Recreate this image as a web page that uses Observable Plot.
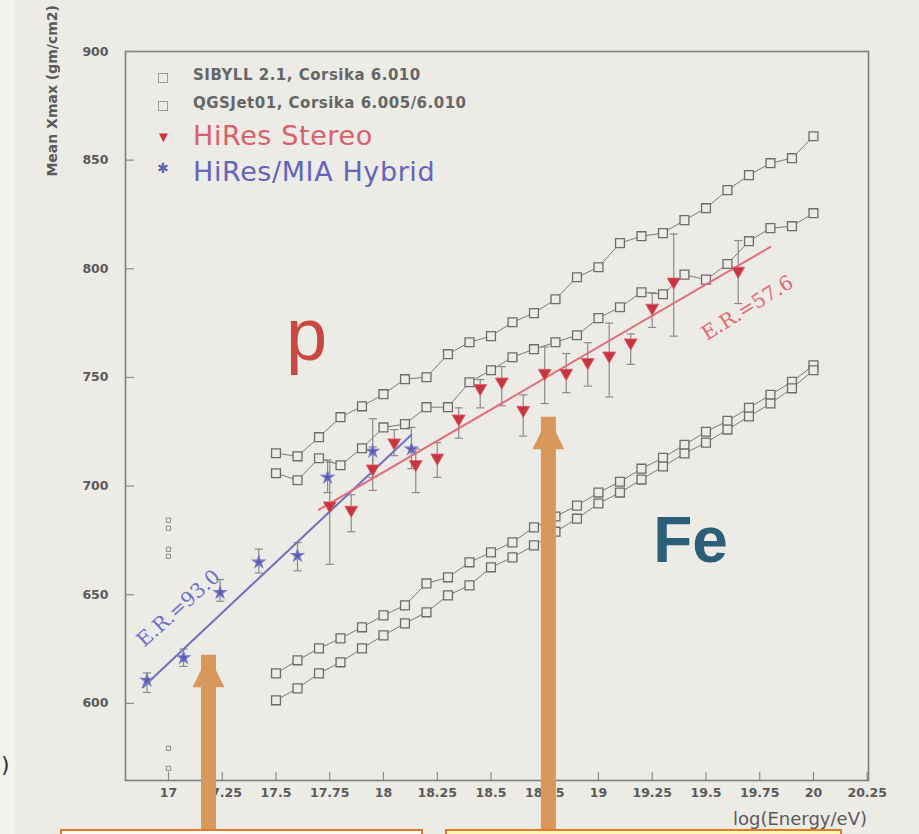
<!DOCTYPE html>
<html>
<head>
<meta charset="utf-8">
<script src="https://cdn.jsdelivr.net/npm/d3@7"></script>
<script src="https://cdn.jsdelivr.net/npm/@observablehq/plot@0.6"></script>
<style>
  html, body { margin: 0; padding: 0; background: #ecebe5; overflow: hidden; }
  #wrap { position: relative; width: 919px; height: 834px; }
  #wrap svg { position: absolute; left: 0; top: 0; }
  .abs { position: absolute; white-space: nowrap; }
  .leg-small { font-family: "DejaVu Sans"; font-weight: bold; font-size: 15px; color: #666; letter-spacing: 0.5px; }
  .leg-big { font-family: "DejaVu Sans"; font-size: 27px; letter-spacing: 0.6px; }
</style>
</head>
<body>
<div id="wrap"></div>
<script>
// Mean depth of shower maximum vs. log10 of the primary energy.

// Simulation energy grid (log10 E/eV)
const simLogE = [17.5, 17.6, 17.7, 17.8, 17.9, 18.0, 18.1, 18.2, 18.3, 18.4, 18.5, 18.6, 18.7,
                 18.8, 18.9, 19.0, 19.1, 19.2, 19.3, 19.4, 19.5, 19.6, 19.7, 19.8, 19.9, 20.0];

// Proton predictions (g/cm2)
const sibyllProton = [715.1, 713.7, 722.5, 731.7, 736.7, 742.3, 749.2, 750.1, 760.7, 766.2, 769.0, 775.4, 779.6,
                      786.0, 796.1, 800.7, 811.8, 815.0, 816.4, 822.4, 827.9, 836.2, 843.1, 848.6, 850.9, 861.0];
const qgsjetProton = [705.9, 702.7, 712.8, 709.6, 717.4, 727.0, 728.5, 736.3, 736.3, 747.8, 753.3, 759.3, 763.0,
                      766.2, 769.4, 777.3, 782.3, 789.2, 788.3, 797.3, 795.0, 802.2, 812.7, 818.7, 819.6, 825.6];
// Iron predictions (g/cm2)
const sibyllIron = [613.8, 619.8, 625.3, 629.9, 635.0, 640.5, 645.1, 655.2, 658.0, 664.9, 669.5, 674.1, 681.0,
                    686, 691, 697, 702, 708, 713, 719, 725, 730, 736, 742, 748, 755.6];
const qgsjetIron = [601.4, 606.9, 613.8, 618.9, 625.3, 631.3, 636.8, 641.9, 649.7, 654.3, 662.6, 667.2, 672.7,
                    679, 685, 692, 697, 703, 709, 715, 720, 726, 732, 738, 745, 753.3];

// HiRes Stereo measurements
const stereoLogE = [17.75, 17.85, 17.95, 18.05, 18.15, 18.25, 18.35, 18.45, 18.55, 18.65, 18.75, 18.85,
                    18.95, 19.05, 19.15, 19.25, 19.35, 19.65];
const stereoXmax = [691, 689, 708, 720, 710, 713, 731, 745, 748, 735, 752, 752, 757, 760, 766, 782, 794, 799];
const stereoLow  = [664, 679, 698, 714, 697, 704, 722, 736, 737, 723, 738, 743, 746, 741, 756, 773, 769, 784];
const stereoHigh = [711, 696, 718, 726, 717, 720, 736, 749, 755, 742, 764, 761, 766, 775, 770, 789, 816, 813];

// HiRes/MIA Hybrid measurements
const hybridLogE = [16.9, 17.07, 17.24, 17.42, 17.6, 17.74, 17.95, 18.13];
const hybridXmax = [610.6, 621, 651, 665, 668, 704, 716, 717];
const hybridLow  = [605, 617, 647, 660, 661, 697, 704, 708];
const hybridHigh = [614, 625, 657, 671, 674, 712, 731, 727];

// Loose low-energy simulation points
const strayLogE = [17.0, 17.0, 17.0, 17.0, 17.0, 17.0];
const strayXmax = [684.3, 680.6, 670.9, 667.7, 579.3, 570.1];

// Elongation-rate fits: slope (g/cm2 per decade), pivot, value at pivot, fitted range
const fitNames  = ["hybrid", "stereo"];
const fitRates  = [93.0, 57.6];
const fitPivot  = [17.0, 19.0];
const fitAtPivot = [618.5, 764];
const fitFrom   = [16.88, 17.7];
const fitTo     = [18.13, 19.8];

// Axis ticks
const xTicks = [17, 17.25, 17.5, 17.75, 18, 18.25, 18.5, 18.75, 19, 19.25, 19.5, 19.75, 20, 20.25];
const xTickLabels = ["17", "17.25", "17.5", "17.75", "18", "18.25", "18.5", "18.75", "19", "19.25", "19.5", "19.75", "20", "20.25"];
const yTicks = [600, 650, 700, 750, 800, 850, 900];
const yTickLabels = ["600", "650", "700", "750", "800", "850", "900"];

// Highlight arrows: position, tip and tail (in data units)
const arrowLogE = [17.186, 18.767];
const arrowTip  = [622.1, 731.7];
const arrowTail = [541.5, 547.0];

// ---- tables built from the arrays above ----
const simSeries = [
  ["SIBYLL p", sibyllProton], ["QGSJet p", qgsjetProton],
  ["SIBYLL Fe", sibyllIron], ["QGSJet Fe", qgsjetIron]
].flatMap(([name, vals]) => vals.map((v, i) => ({series: name, x: simLogE[i], y: v})));
const stereo = stereoLogE.map((x, i) => ({x, y: stereoXmax[i], lo: stereoLow[i], hi: stereoHigh[i]}));
const hybrid = hybridLogE.map((x, i) => ({x, y: hybridXmax[i], lo: hybridLow[i], hi: hybridHigh[i]}));
const stray = strayLogE.map((x, i) => ({x, y: strayXmax[i]}));
const fits = fitNames.flatMap((name, i) => [fitFrom[i], fitTo[i]].map(x => ({
  fit: name, x, y: fitAtPivot[i] + fitRates[i] * (x - fitPivot[i])
})));
const arrows = arrowLogE.map((x, i) => ({x, tip: arrowTip[i], tail: arrowTail[i]}));

const bg = "#ecebe5";
const capHalf = 0.019;

// Arrowhead: tip at the anchor, opening downwards
const arrowHead = {
  draw(ctx, size) {
    const r = Math.sqrt(size / Math.PI);
    ctx.moveTo(0, 0);
    ctx.lineTo(r, 2 * r);
    ctx.lineTo(-r, 2 * r);
    ctx.closePath();
  }
};

const W = 919, H = 834;
const mL = 125, mR = 51, mT = 51, mB = 54;
const frameW = W - mL - mR, frameH = H - mT - mB;

const chart = Plot.plot({
  width: W,
  height: H,
  marginLeft: mL,
  marginRight: mR,
  marginTop: mT,
  marginBottom: mB,
  style: {
    background: "transparent",
    fontFamily: "DejaVu Sans",
    fontWeight: "bold",
    fontSize: "12.5px",
    color: "#5a5a5a"
  },
  x: {
    domain: [16.8, 20.256],
    ticks: xTicks,
    tickFormat: d => xTickLabels[xTicks.indexOf(d)],
    tickSize: 0,
    tickPadding: 8,
    label: null
  },
  y: {
    domain: [564.5, 900],
    ticks: yTicks,
    tickFormat: d => yTickLabels[yTicks.indexOf(d)],
    tickSize: 0,
    tickPadding: 17,
    label: null
  },
  marks: [
    Plot.frame({stroke: "#7c7c7c", strokeWidth: 1.6}),
    Plot.ruleX(xTicks, {x: d => d, stroke: "#8a8a8a", strokeWidth: 1.2, insetTop: frameH - 8}),
    Plot.ruleY(yTicks, {y: d => d, stroke: "#8a8a8a", strokeWidth: 1.2, insetRight: frameW - 9}),

    // simulation curves
    Plot.line(simSeries, {x: "x", y: "y", z: "series", stroke: "#7a7a7a", strokeWidth: 1}),
    Plot.dot(simSeries, {x: "x", y: "y", symbol: "square", r: 5, stroke: "#6c6c6c", strokeWidth: 1.3, fill: bg}),
    Plot.dot(stray, {x: "x", y: "y", symbol: "square", r: 2.4, stroke: "#8c8c8c", strokeWidth: 1, fill: bg}),

    // error bars
    Plot.ruleX(hybrid, {x: "x", y1: "lo", y2: "hi", stroke: "#8a8a8a", strokeWidth: 1.2}),
    Plot.link(hybrid, {x1: d => d.x - capHalf, x2: d => d.x + capHalf, y1: "lo", y2: "lo", stroke: "#8a8a8a", strokeWidth: 1.2}),
    Plot.link(hybrid, {x1: d => d.x - capHalf, x2: d => d.x + capHalf, y1: "hi", y2: "hi", stroke: "#8a8a8a", strokeWidth: 1.2}),
    Plot.ruleX(stereo, {x: "x", y1: "lo", y2: "hi", stroke: "#8a8a8a", strokeWidth: 1.2}),
    Plot.link(stereo, {x1: d => d.x - capHalf, x2: d => d.x + capHalf, y1: "lo", y2: "lo", stroke: "#8a8a8a", strokeWidth: 1.2}),
    Plot.link(stereo, {x1: d => d.x - capHalf, x2: d => d.x + capHalf, y1: "hi", y2: "hi", stroke: "#8a8a8a", strokeWidth: 1.2}),

    // elongation-rate fits
    Plot.line(fits, {x: "x", y: "y", z: "fit",
      stroke: d => d.fit === "hybrid" ? "#6f6fc2" : "#e0707a", strokeWidth: 2}),

    // measurements
    Plot.dot(hybrid, {x: "x", y: "y", symbol: "star", r: 3.8, fill: "#5a5aa8", stroke: "#7a7ac8", strokeWidth: 1.2}),
    Plot.dot(stereo, {x: "x", y: "y", symbol: "triangle", rotate: 180, r: 4.8, fill: "#c8343f", stroke: "#d9606a", strokeWidth: 0.8}),

    // labels
    Plot.text([`E.R.=${fitRates[0].toFixed(1)}`], {x: 17.047, y: 643.7, rotate: -42,
      fontSize: 20, fontWeight: "normal", fontFamily: "DejaVu Serif", fill: "#6e6ec8"}),
    Plot.text([`E.R.=${fitRates[1].toFixed(1)}`], {x: 19.693, y: 781.9, rotate: -32,
      fontSize: 20, fontWeight: "normal", fontFamily: "DejaVu Serif", fill: "#e06a74"}),
    Plot.text(["p"], {x: 17.642, y: 757.9, lineAnchor: "bottom", fontSize: 74, fontWeight: "normal",
      fontFamily: "Liberation Sans", fill: "#c6483f"}),
    Plot.text(["Fe"], {x: 19.428, y: 664.9, lineAnchor: "bottom", fontSize: 64, fontWeight: "bold",
      fontFamily: "Liberation Sans", fill: "#2b5f78"}),

    // highlight arrows
    Plot.ruleX(arrows, {x: "x", y1: "tail", y2: "tip", stroke: "#d8985c", strokeWidth: 15, insetTop: 28}),
    Plot.dot(arrows, {x: "x", y: "tip", symbol: arrowHead, r: 16, fill: "#d8985c", stroke: "none"})
  ]
});

const wrap = document.getElementById("wrap");
wrap.appendChild(chart);

// overlay text: legend, axis titles, frame boxes
function addEl(html, css, cls) {
  const el = document.createElement("div");
  el.className = "abs " + (cls || "");
  el.innerHTML = html;
  Object.assign(el.style, css);
  wrap.appendChild(el);
  return el;
}

// left edge strip
addEl("", {left: "0px", top: "0px", width: "15px", height: "834px", background: "#f2f2ee"});
addEl(")", {left: "1px", top: "752px", fontFamily: "DejaVu Sans", fontSize: "22px", color: "#333"});

// legend
const sq = '<span style="display:inline-block;width:8px;height:8px;border:1.3px solid #9a9a9a;"></span>';
addEl(sq, {left: "158px", top: "69px"});
addEl("SIBYLL 2.1, Corsika 6.010", {left: "193px", top: "66px"}, "leg-small");
addEl(sq, {left: "158px", top: "97px"});
addEl("QGSJet01, Corsika 6.005/6.010", {left: "193px", top: "94px"}, "leg-small");
addEl("▼", {left: "156px", top: "129px", fontSize: "15px", color: "#c8343f"});
addEl("HiRes Stereo", {left: "193px", top: "120px", color: "#d7606a"}, "leg-big");
addEl("✱", {left: "157px", top: "160px", fontSize: "14px", color: "#6262b0"});
addEl("HiRes/MIA Hybrid", {left: "193px", top: "156px", color: "#6464b8"}, "leg-big");

// y-axis title, reading bottom to top, its end near the top edge
addEl("Mean Xmax (gm/cm2)", {left: "44px", top: "5px", fontFamily: "DejaVu Sans", fontWeight: "bold",
  fontSize: "14px", color: "#5a5a5a", writingMode: "vertical-rl", transform: "rotate(180deg)"});
addEl("log(Energy/eV)", {right: `${W - 867}px`, top: "808px", fontFamily: "DejaVu Sans",
  fontSize: "18px", color: "#5a5a5a"});

// boxes below the chart
addEl("", {left: "60px", top: "829px", width: "363px", height: "20px", border: "2px solid #e07a2a",
  background: "#fbfbf7", boxSizing: "border-box"});
addEl("", {left: "445px", top: "829px", width: "397px", height: "20px", border: "2px solid #e07a2a",
  background: "#fdf9b4", boxSizing: "border-box"});
</script>
</body>
</html>
